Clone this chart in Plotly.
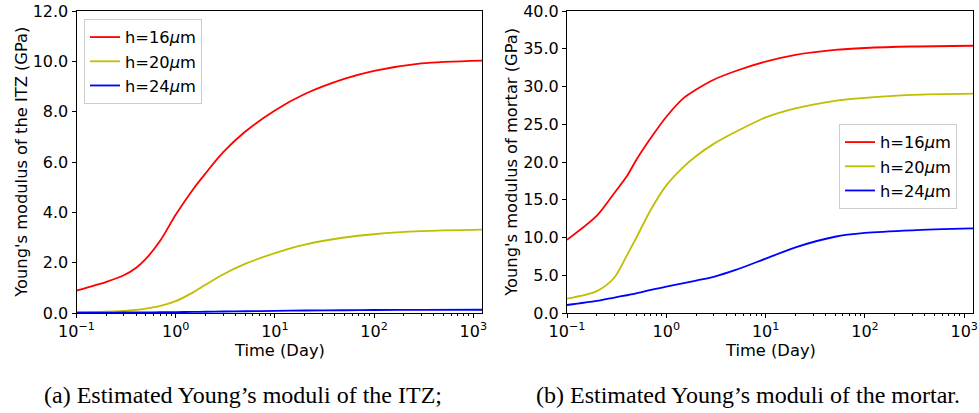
import plotly.graph_objects as go

time_days = [0.1, 0.2, 0.3, 0.4, 0.5, 0.7, 1.0, 1.5, 2, 3, 5, 10, 20, 50, 100, 300, 1225]

itz_h16 = [0.89, 1.24, 1.50, 1.80, 2.15, 2.88, 3.90, 4.92, 5.55, 6.38, 7.20, 8.05, 8.70, 9.30, 9.62, 9.92, 10.03]
itz_h20 = [0.03, 0.05, 0.08, 0.12, 0.17, 0.28, 0.47, 0.82, 1.12, 1.53, 1.95, 2.38, 2.72, 3.00, 3.13, 3.25, 3.31]
itz_h24 = [0.01, 0.015, 0.02, 0.022, 0.025, 0.03, 0.035, 0.045, 0.05, 0.06, 0.07, 0.085, 0.10, 0.11, 0.12, 0.125, 0.13]

mortar_h16 = [9.7, 12.9, 15.9, 18.1, 20.3, 23.2, 26.0, 28.5, 29.6, 30.9, 32.05, 33.3, 34.2, 34.85, 35.1, 35.3, 35.4]
mortar_h20 = [1.9, 2.9, 4.7, 7.6, 10.0, 13.7, 16.9, 19.4, 20.8, 22.4, 24.0, 25.9, 27.1, 28.1, 28.5, 28.9, 29.06]
mortar_h24 = [1.06, 1.6, 2.05, 2.35, 2.6, 3.05, 3.5, 3.95, 4.3, 4.8, 5.7, 7.2, 8.7, 10.1, 10.6, 10.95, 11.2]

series_names = ["h=16<i>μ</i>m", "h=20<i>μ</i>m", "h=24<i>μ</i>m"]
colors = ["#ff0000", "#bfbf00", "#0000ff"]

x_tickvals = [0.1, 1, 10, 100, 1000]
x_ticktext = ["10<sup>−1</sup>", "10<sup>0</sup>", "10<sup>1</sup>", "10<sup>2</sup>", "10<sup>3</sup>"]
minor_vals = [m * 10 ** e for e in range(-1, 4) for m in range(2, 10)]

x_title = "Time (Day)"
y_titles = ["Young's modulus of the ITZ (GPa)", "Young's modulus of mortar (GPa)"]
captions = ["(a) Estimated Young’s moduli of the ITZ;", "(b) Estimated Young’s moduli of the mortar."]

FONT = "DejaVu Sans"
FS_TICK = 16
FS_TEXT = 16.3

fig = go.Figure()
for vals, name, col in zip([itz_h16, itz_h20, itz_h24], series_names, colors):
    fig.add_trace(go.Scatter(x=time_days, y=vals, name=name, mode="lines",
                             line=dict(color=col, width=1.8, shape="spline", smoothing=0.8),
                             xaxis="x", yaxis="y", legend="legend"))
for vals, name, col in zip([mortar_h16, mortar_h20, mortar_h24], series_names, colors):
    fig.add_trace(go.Scatter(x=time_days, y=vals, name=name, mode="lines",
                             line=dict(color=col, width=1.8, shape="spline", smoothing=0.8),
                             xaxis="x2", yaxis="y2", legend="legend2"))

W, H = 979, 413
def px_x(p): return p / W
def px_y(p): return 1 - p / H

xcommon = dict(type="log", range=[-1, 3.088], tickmode="array", tickvals=x_tickvals, ticktext=x_ticktext,
               ticks="outside", ticklen=4, tickwidth=1, tickcolor="black",
               showline=True, linecolor="black", linewidth=1, mirror=True,
               showgrid=False, zeroline=False, automargin=False,
               tickfont=dict(family=FONT, size=FS_TICK, color="black"),
               minor=dict(tickmode="array", tickvals=minor_vals, ticks="outside", ticklen=2,
                          tickwidth=0.8, tickcolor="black", showgrid=False))
ycommon = dict(ticks="outside", ticklen=4, tickwidth=1, tickcolor="black", tickformat=".1f",
               showline=True, linecolor="black", linewidth=1, mirror=True,
               showgrid=False, zeroline=False, automargin=False,
               tickfont=dict(family=FONT, size=FS_TICK, color="black"))

legcommon = dict(bgcolor="white", bordercolor="#cccccc", borderwidth=1,
                 font=dict(family=FONT, size=FS_TEXT, color="black"),
                 xanchor="left", yanchor="top", tracegroupgap=0)

fig.update_layout(
    width=W, height=H, margin=dict(l=0, r=0, t=0, b=0, autoexpand=False),
    paper_bgcolor="white", plot_bgcolor="white",
    xaxis=dict(domain=[px_x(76.5), px_x(482)], anchor="y", **xcommon),
    xaxis2=dict(domain=[px_x(567), px_x(973)], anchor="y2", **xcommon),
    yaxis=dict(domain=[px_y(313), px_y(11)], anchor="x", range=[0, 12], dtick=2, **ycommon),
    yaxis2=dict(domain=[px_y(313), px_y(11)], anchor="x2", range=[0, 40], dtick=5, **ycommon),
    legend=dict(x=px_x(84), y=px_y(19), **legcommon),
    legend2=dict(x=px_x(839), y=px_y(124), **legcommon),
    showlegend=True,
)

# axis titles
for cx in [279, 770]:
    fig.add_annotation(x=px_x(cx), y=px_y(350), xref="paper", yref="paper", text=x_title,
                       showarrow=False, xanchor="center", yanchor="middle",
                       font=dict(family=FONT, size=FS_TEXT, color="black"))
for cx, text in zip([20.7, 510.7], y_titles):
    fig.add_annotation(x=px_x(cx), y=px_y(162), xref="paper", yref="paper", text=text,
                       showarrow=False, xanchor="center", yanchor="middle", textangle=-90,
                       font=dict(family=FONT, size=FS_TEXT, color="black"))

for cx, text in zip([243, 747.5], captions):
    fig.add_annotation(x=px_x(cx), y=px_y(395), xref="paper", yref="paper", text=text,
                       showarrow=False, xanchor="center", yanchor="middle",
                       font=dict(family="Liberation Serif", size=24, color="black"))

fig.write_html("out.html")
